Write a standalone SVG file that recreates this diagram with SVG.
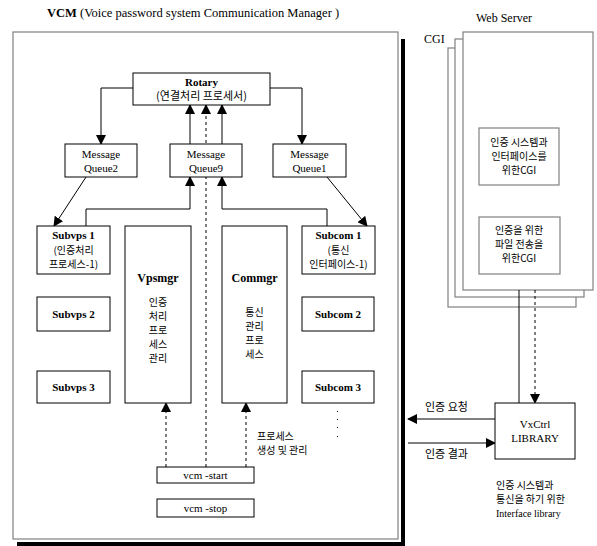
<svg xmlns="http://www.w3.org/2000/svg" width="597" height="546" viewBox="0 0 597 546">
  <style>
    .box { fill: #fff; stroke: #000; stroke-width: 1; }
    .frame { fill: #fff; stroke: #808080; stroke-width: 1.2; }
    .ln { fill: none; stroke: #000; stroke-width: 1; }
    .dash { fill: none; stroke: #000; stroke-width: 1; stroke-dasharray: 3 3; }
    .en { font-family: "Liberation Serif", "DejaVu Serif", serif; font-size: 11px; fill: #000; }
    .b { font-weight: bold; }
    .ko { font-family: "Noto Sans CJK KR", "Noto Sans", sans-serif; font-size: 11px; fill: #000; }
    .ks { font-size: 10px; }
    .c { text-anchor: middle; }
  </style>
  <defs>
    <marker id="ah" markerWidth="10" markerHeight="10" refX="9" refY="5" orient="auto" markerUnits="userSpaceOnUse">
      <path d="M0,0 L10,5 L0,10 Z" fill="#000"/>
    </marker>
  </defs>

  <rect width="597" height="546" fill="#fff"/>

  <!-- VCM title -->
  <text x="47" y="17" class="en" style="font-size:12.5px"><tspan class="b">VCM</tspan> (Voice password system Communication Manager )</text>

  <!-- VCM frame with shadow -->
  <g id="vcm-frame">
    <rect x="401" y="39" width="4" height="507" fill="#000"/>
    <rect x="17" y="542" width="388" height="4" fill="#000"/>
    <rect x="13" y="32" width="385" height="507" class="frame"/>
  </g>

  <!-- Web server stack -->
  <g id="web-server">
    <rect x="448" y="48" width="128" height="259" class="frame"/>
    <rect x="455" y="39" width="129" height="258" class="frame"/>
    <rect x="463" y="32" width="130" height="258" class="frame"/>
    <text x="476" y="22" class="en" style="font-size:12px">Web Server</text>
    <text x="424" y="43" class="en" style="font-size:12px">CGI</text>
  </g>

  <g id="cgi-auth">
    <rect x="479" y="128" width="80" height="57" class="frame"/>
    <text x="519" y="146" class="ko ks c">인증 시스템과</text>
    <text x="519" y="160" class="ko ks c">인터페이스를</text>
    <text x="519" y="174" class="ko ks c">위한CGI</text>
  </g>

  <g id="cgi-file">
    <rect x="479" y="217" width="81" height="57" class="frame"/>
    <text x="519" y="234" class="ko ks c">인증을 위한</text>
    <text x="519" y="248" class="ko ks c">파일 전송을</text>
    <text x="519" y="262" class="ko ks c">위한CGI</text>
  </g>

  <!-- Connectors -->
  <g id="connectors">
    <!-- Rotary to queues -->
    <polyline points="133,88 101,88 101,144" class="ln" marker-end="url(#ah)"/>
    <polyline points="270,88 302,88 302,144" class="ln" marker-end="url(#ah)"/>
    <!-- Queue9 to Rotary -->
    <line x1="190" y1="144" x2="190" y2="105" class="ln" marker-end="url(#ah)"/>
    <line x1="222" y1="144" x2="222" y2="105" class="ln" marker-end="url(#ah)"/>
    <!-- vcm-start dashed up to Rotary -->
    <line x1="206" y1="467" x2="206" y2="105" class="dash" marker-end="url(#ah)"/>
    <!-- Subvps1 / Subcom1 up to Queue9 -->
    <polyline points="86,226 86,209 190,209 190,177" class="ln" marker-end="url(#ah)"/>
    <polyline points="327,226 327,209 222,209 222,177" class="ln" marker-end="url(#ah)"/>
    <!-- Queues down to Subvps1 / Subcom1 -->
    <line x1="86" y1="177" x2="54" y2="226" class="ln" marker-end="url(#ah)"/>
    <line x1="327" y1="177" x2="367" y2="226" class="ln" marker-end="url(#ah)"/>
    <!-- vcm-start to managers -->
    <line x1="166" y1="467" x2="166" y2="403" class="dash" marker-end="url(#ah)"/>
    <line x1="246" y1="467" x2="246" y2="403" class="dash" marker-end="url(#ah)"/>
    <!-- Web server to VxCtrl -->
    <line x1="519" y1="290" x2="519" y2="403" class="ln"/>
    <line x1="535" y1="290" x2="535" y2="403" class="dash" marker-end="url(#ah)"/>
    <!-- VxCtrl to VCM -->
    <line x1="495" y1="419" x2="408" y2="419" class="ln" marker-end="url(#ah)"/>
    <line x1="408" y1="443" x2="495" y2="443" class="ln" marker-end="url(#ah)"/>
  </g>

  <text x="425" y="411" class="ko">인증 요청</text>
  <text x="425" y="458" class="ko">인증 결과</text>

  <!-- continuation dots -->
  <g id="more-subcom" fill="#000">
    <rect x="337" y="411" width="1" height="1"/>
    <rect x="337" y="419" width="1" height="1"/>
    <rect x="337" y="427" width="1" height="1"/>
    <rect x="337" y="436" width="1" height="1"/>
  </g>

  <text x="257" y="440" class="ko ks">프로세스</text>
  <text x="257" y="454" class="ko ks">생성 및 관리</text>

  <!-- Nodes -->
  <g id="rotary">
    <rect x="133" y="73" width="137" height="32" class="box"/>
    <text x="201.5" y="86" class="en b c">Rotary</text>
    <text x="201.5" y="100" class="ko c">(연결처리 프로세서)</text>
  </g>

  <g id="queue2">
    <rect x="65" y="144" width="72" height="33" class="box"/>
    <text x="101" y="158" class="en c">Message</text>
    <text x="101" y="172" class="en c">Queue2</text>
  </g>

  <g id="queue9">
    <rect x="170" y="144" width="72" height="33" class="box"/>
    <text x="206" y="158" class="en c">Message</text>
    <text x="206" y="172" class="en c">Queue9</text>
  </g>

  <g id="queue1">
    <rect x="273" y="144" width="73" height="33" class="box"/>
    <text x="309.5" y="158" class="en c">Message</text>
    <text x="309.5" y="172" class="en c">Queue1</text>
  </g>

  <g id="subvps1">
    <rect x="37" y="226" width="73" height="48" class="box"/>
    <text x="73.5" y="239" class="en b c">Subvps 1</text>
    <text x="73.5" y="254" class="ko ks c">(인증처리</text>
    <text x="73.5" y="268" class="ko ks c">프로세스-1)</text>
  </g>

  <g id="subvps2">
    <rect x="37" y="297" width="73" height="34" class="box"/>
    <text x="73.5" y="318" class="en b c">Subvps 2</text>
  </g>

  <g id="subvps3">
    <rect x="37" y="371" width="73" height="32" class="box"/>
    <text x="73.5" y="391" class="en b c">Subvps 3</text>
  </g>

  <g id="vpsmgr">
    <rect x="125" y="226" width="66" height="177" class="box"/>
    <text x="158" y="282" class="en b c" style="font-size:12px">Vpsmgr</text>
    <text x="158" y="306" class="ko ks c">인증</text>
    <text x="158" y="320" class="ko ks c">처리</text>
    <text x="158" y="334" class="ko ks c">프로</text>
    <text x="158" y="348" class="ko ks c">세스</text>
    <text x="158" y="362" class="ko ks c">관리</text>
  </g>

  <g id="commgr">
    <rect x="222" y="226" width="65" height="177" class="box"/>
    <text x="254.5" y="282" class="en b c" style="font-size:12px">Commgr</text>
    <text x="254.5" y="316" class="ko ks c">통신</text>
    <text x="254.5" y="330" class="ko ks c">관리</text>
    <text x="254.5" y="344" class="ko ks c">프로</text>
    <text x="254.5" y="358" class="ko ks c">세스</text>
  </g>

  <g id="subcom1">
    <rect x="302" y="226" width="73" height="48" class="box"/>
    <text x="338.5" y="239" class="en b c">Subcom 1</text>
    <text x="338.5" y="254" class="ko ks c">(통신</text>
    <text x="338.5" y="268" class="ko ks c">인터페이스-1)</text>
  </g>

  <g id="subcom2">
    <rect x="302" y="297" width="72" height="34" class="box"/>
    <text x="338" y="318" class="en b c">Subcom 2</text>
  </g>

  <g id="subcom3">
    <rect x="302" y="371" width="72" height="32" class="box"/>
    <text x="338" y="391" class="en b c">Subcom 3</text>
  </g>

  <g id="vcm-start">
    <rect x="157" y="467" width="97" height="16" class="box"/>
    <text x="205.5" y="479" class="en c">vcm -start</text>
  </g>

  <g id="vcm-stop">
    <rect x="157" y="499" width="97" height="18" class="box"/>
    <text x="205.5" y="512" class="en c">vcm  -stop</text>
  </g>

  <g id="vxctrl">
    <rect x="495" y="403" width="80" height="56" class="box"/>
    <text x="535" y="428" class="en c">VxCtrl</text>
    <text x="535" y="442" class="en c">LIBRARY</text>
  </g>

  <text x="496" y="489" class="ko ks">인증 시스템과</text>
  <text x="496" y="503" class="ko ks">통신을 하기 위한</text>
  <text x="496" y="517" class="en" style="font-size:10px">Interface library</text>
</svg>
